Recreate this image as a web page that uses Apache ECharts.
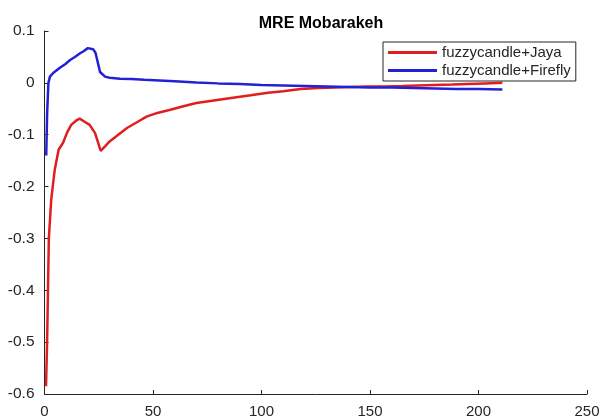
<!DOCTYPE html>
<html>
<head>
<meta charset="utf-8">
<script src="https://cdn.jsdelivr.net/npm/echarts@6/dist/echarts.min.js"></script>
<style>
  html, body { margin: 0; padding: 0; background: #fff; }
  #chart { width: 603px; height: 419px; }
</style>
</head>
<body>
<div id="chart"></div>
<script>
// values
const jayaX = [0.7, 1.2, 1.6, 2, 3.1, 4.7, 6.5, 8.5, 10.5, 12.3, 14.5, 16.2, 18.5, 20.8, 21.7, 23.3, 25.9, 28, 30, 34, 38, 43, 47, 52, 58, 64, 70, 78, 86, 95, 103, 110, 118, 126, 134, 141, 149, 157, 165, 172, 180, 188, 195, 203, 211]
const jayaY = [-0.585, -0.5, -0.4, -0.3, -0.225, -0.168, -0.129, -0.116, -0.095, -0.081, -0.073, -0.069, -0.075, -0.081, -0.083, -0.097, -0.131, -0.122, -0.113, -0.1, -0.087, -0.075, -0.065, -0.058, -0.052, -0.045, -0.039, -0.034, -0.029, -0.024, -0.019, -0.016, -0.012, -0.01, -0.009, -0.008, -0.007, -0.007, -0.006, -0.005, -0.004, -0.003, -0.002, -0.001, 0.0]

const fireflyX = [0.8, 1.2, 1.8, 2.5, 4, 7.1, 9.5, 11.8, 14, 16.4, 18, 20, 22.4, 23.5, 25.6, 27.9, 30, 34.8, 40, 46, 53, 60, 70, 80, 90, 100, 110, 120, 130, 140, 150, 160, 170, 180, 190, 200, 211]
const fireflyY = [-0.14, -0.06, 0.0, 0.012, 0.019, 0.029, 0.036, 0.044, 0.05, 0.057, 0.061, 0.067, 0.065, 0.058, 0.021, 0.012, 0.01, 0.008, 0.0075, 0.006, 0.0045, 0.003, 0.0005, -0.001, -0.002, -0.004, -0.005, -0.006, -0.007, -0.008, -0.009, -0.009, -0.01, -0.011, -0.012, -0.012, -0.013]

const seriesNames = ['fuzzycandle+Jaya', 'fuzzycandle+Firefly']

const axisColor = '#262626'
const font = 'Liberation Sans, Arial, sans-serif'

function pairs(xs, ys) {
  return xs.map((x, i) => [x, ys[i]])
}

const myChart = echarts.init(document.getElementById('chart'))
let option = {
  animation: false,
  title: {
    text: 'MRE Mobarakeh',
    left: 316,
    textAlign: 'center',
    top: 11,
    textStyle: {fontFamily: font, fontSize: 16, fontWeight: 'bold', color: '#000'}
  },
  legend: {
    orient: 'vertical',
    left: 383,
    top: 42,
    padding: [3, 5, 3, 5],
    itemGap: 3,
    itemWidth: 49,
    itemHeight: 3,
    icon: 'rect',
    borderColor: axisColor,
    borderWidth: 1,
    backgroundColor: '#fff',
    textStyle: {fontFamily: font, fontSize: 15, color: axisColor}
  },
  grid: {left: 44.5, right: 16, top: 31, bottom: 25},
  xAxis: {
    type: 'value',
    min: 0,
    max: 250,
    interval: 50,
    splitLine: {show: false},
    axisLine: {onZero: false, lineStyle: {color: axisColor}},
    axisTick: {inside: true, length: 4, lineStyle: {color: axisColor}},
    axisLabel: {fontFamily: font, fontSize: 15, color: axisColor, margin: 10}
  },
  yAxis: {
    type: 'value',
    min: -0.6,
    max: 0.1,
    interval: 0.1,
    splitLine: {show: false},
    axisLine: {show: true, lineStyle: {color: axisColor}},
    axisTick: {show: true, inside: true, length: 4, lineStyle: {color: axisColor}},
    axisLabel: {
      fontFamily: font, fontSize: 15.5, color: axisColor, margin: 10,
      formatter: v => Math.abs(v) < 1e-9 ? '0' : String(parseFloat(v.toFixed(1)))
    }
  },
  series: [{
    name: seriesNames[0],
    type: 'line',
    data: pairs(jayaX, jayaY),
    showSymbol: false,
    color: '#e01e1e',
    lineStyle: {width: 2.5, color: '#e01e1e'}
  }, {
    name: seriesNames[1],
    type: 'line',
    data: pairs(fireflyX, fireflyY),
    showSymbol: false,
    color: '#2222d4',
    lineStyle: {width: 2.5, color: '#2222d4'}
  }]
}
option && myChart.setOption(option)
</script>
</body>
</html>
